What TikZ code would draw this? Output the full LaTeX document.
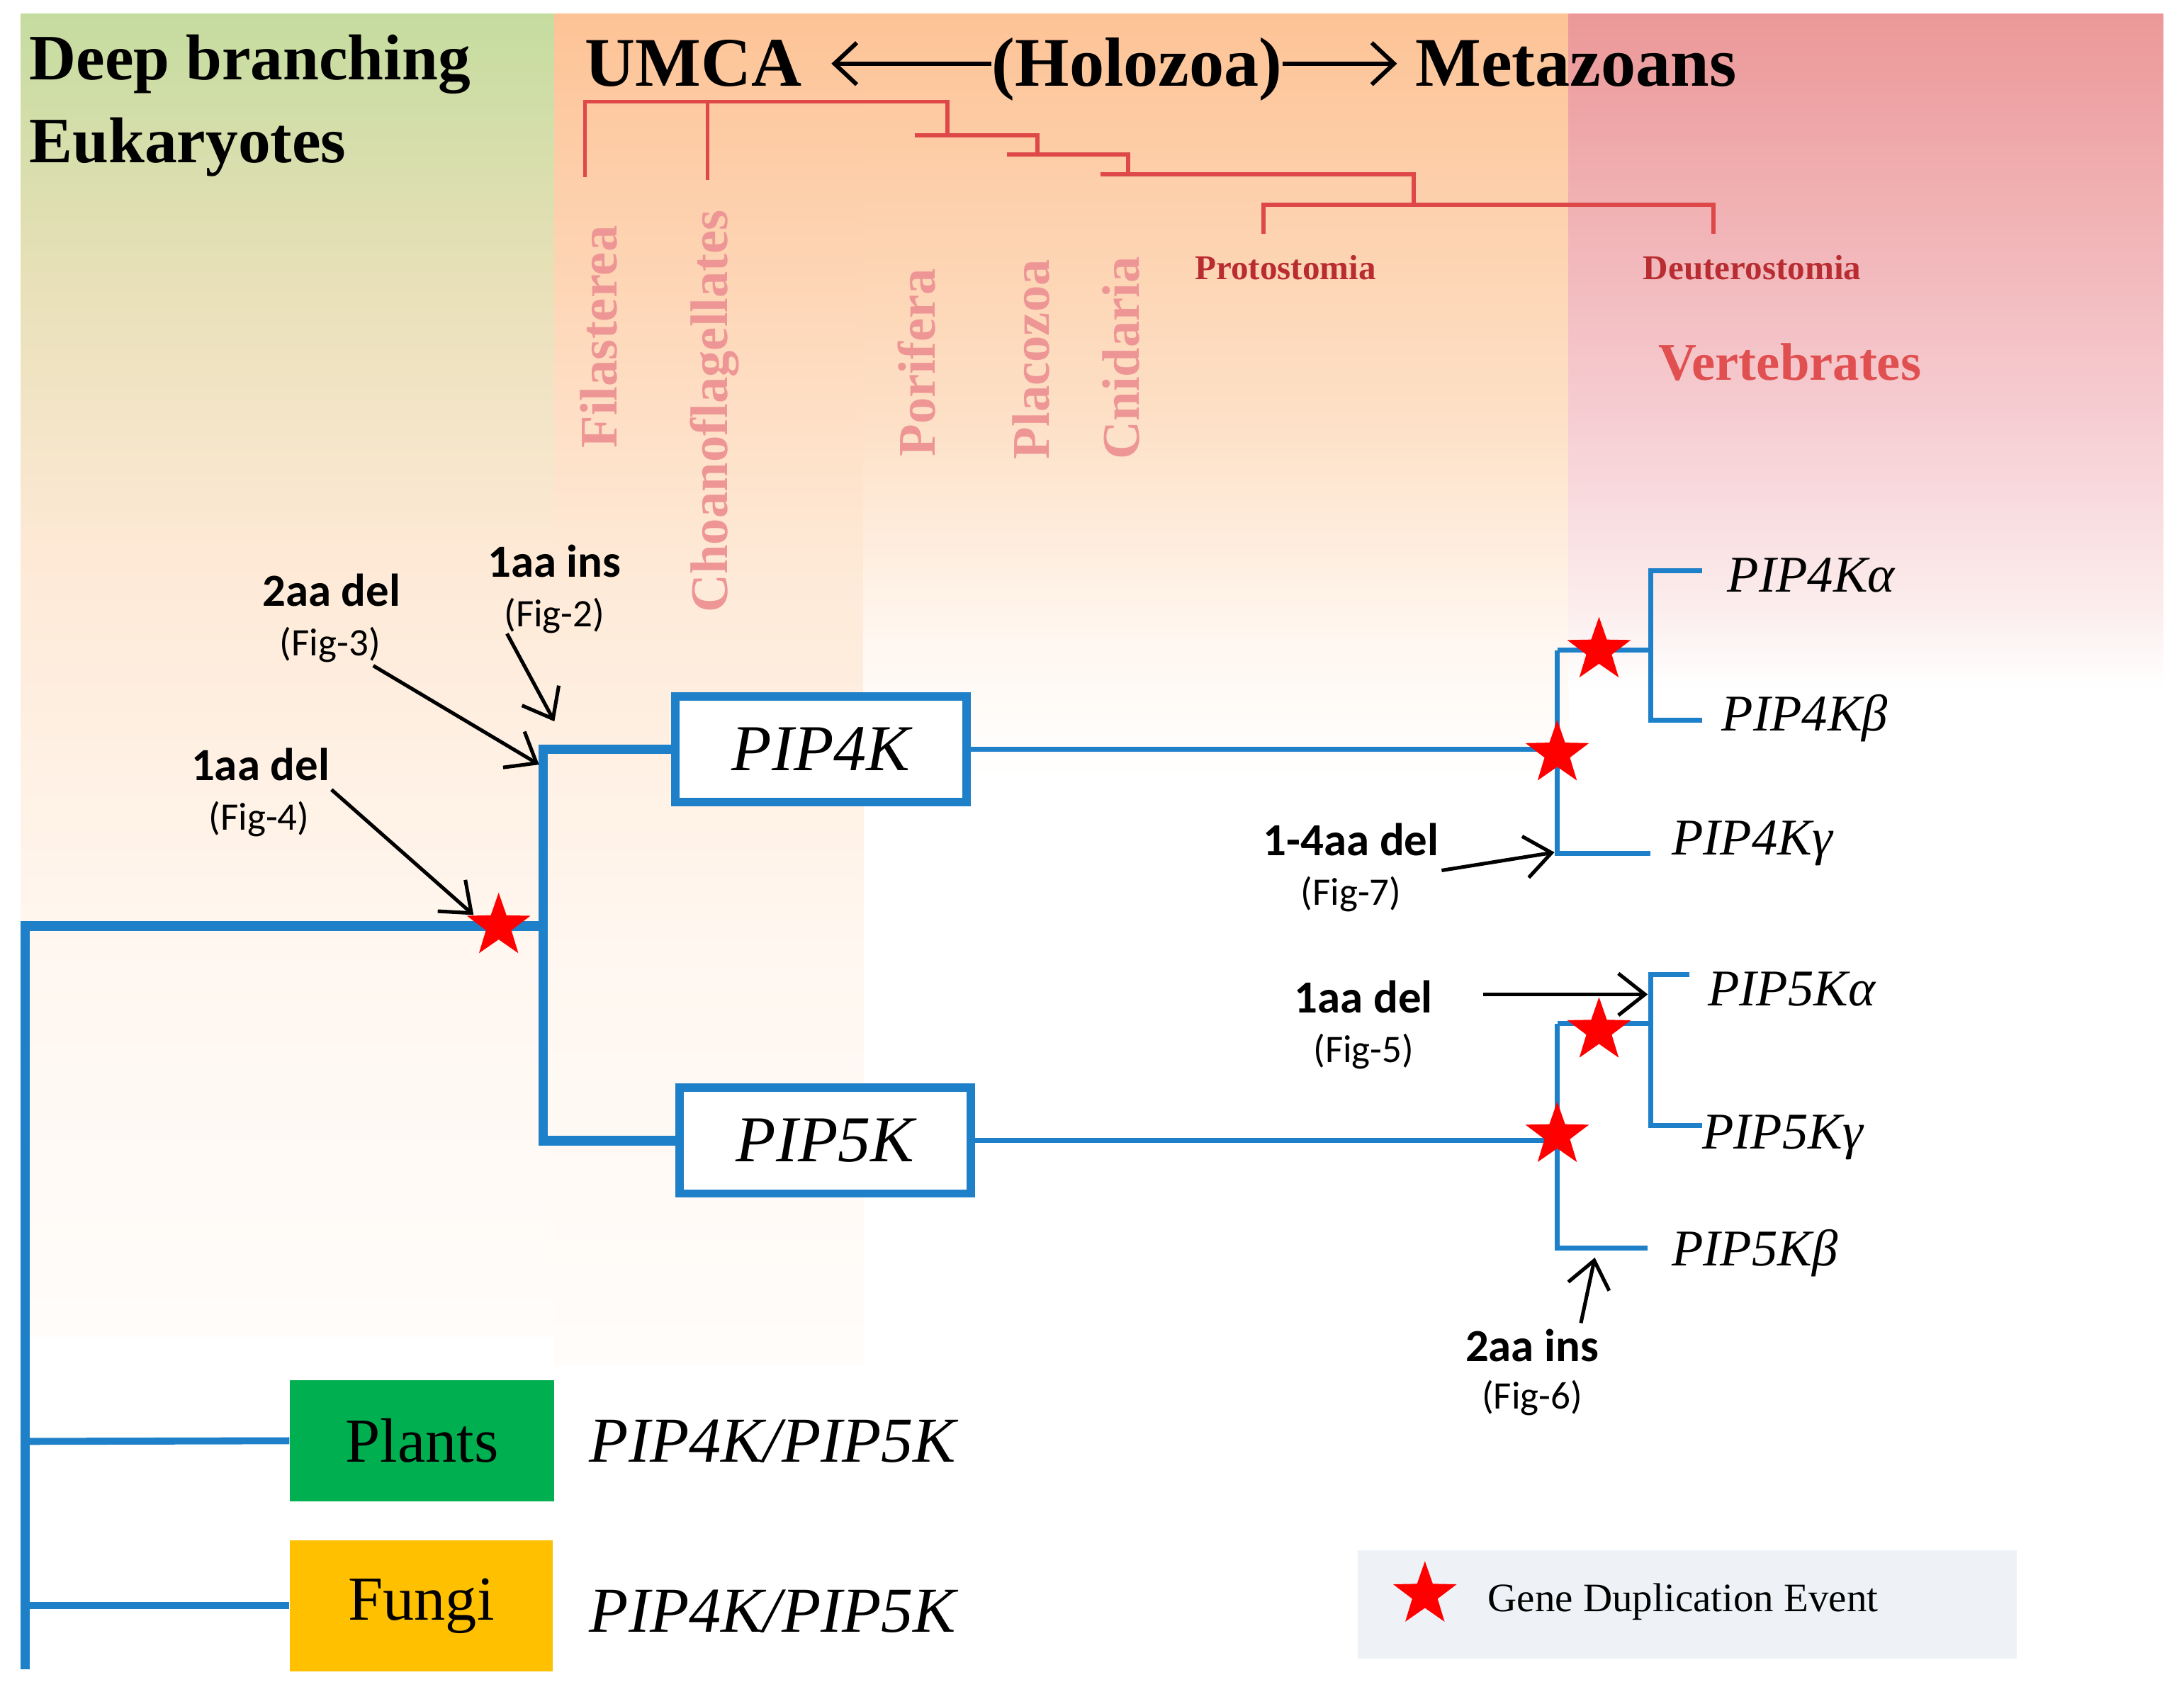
\documentclass[tikz,border=0pt]{standalone}
\usepackage{fontspec}
\setmainfont{Liberation Serif}
\newfontfamily\calibfont{Carlito}
\usetikzlibrary{shapes.geometric,arrows.meta}
\definecolor{treeblue}{RGB}{30,128,200}
\definecolor{treered}{RGB}{222,72,72}
\definecolor{labpink}{RGB}{238,150,150}
\definecolor{darkred}{RGB}{185,45,50}
\definecolor{vertred}{RGB}{225,80,80}
\definecolor{bggreen}{RGB}{197,220,159}
\definecolor{bgolive}{RGB}{232,224,184}
\definecolor{bgorange}{RGB}{253,195,150}
\definecolor{bgmidpeach}{RGB}{253,224,198}
\definecolor{bgpeach}{RGB}{254,233,214}
\definecolor{bgpeachmid}{RGB}{255,247,240}
\definecolor{bgpeachlow}{RGB}{255,252,250}
\definecolor{bgpink}{RGB}{236,152,152}
\definecolor{bgpinkmid}{RGB}{246,205,210}
\definecolor{bgpinklow}{RGB}{252,238,238}
\definecolor{plantgreen}{RGB}{0,176,80}
\definecolor{fungigold}{RGB}{255,192,0}
\definecolor{legendbg}{RGB}{238,242,247}
\pgfdeclareverticalshading{leftcol}{100bp}{color(0bp)=(bgpeachlow); color(25bp)=(bgpeachlow); color(39.74bp)=(bgpeachmid); color(54.47bp)=(bgpeach); color(65bp)=(bgolive); color(75bp)=(bggreen); color(100bp)=(bggreen)}
\pgfdeclareverticalshading{bandcol}{100bp}{color(0bp)=(bgpeachlow); color(25bp)=(bgpeachlow); color(40.46bp)=(bgpeachmid); color(54.9bp)=(bgpeach); color(75bp)=(bgorange); color(100bp)=(bgorange)}
\pgfdeclareverticalshading{midcol}{100bp}{color(0bp)=(white); color(25bp)=(white); color(34.09bp)=(bgpeachmid); color(48.64bp)=(bgmidpeach); color(75bp)=(bgorange); color(100bp)=(bgorange)}
\pgfdeclareverticalshading{pinkcol}{100bp}{color(0bp)=(white); color(25bp)=(white); color(30.67bp)=(bgpinklow); color(45.1bp)=(bgpinkmid); color(75bp)=(bgpink); color(100bp)=(bgpink)}
\tikzset{
  hdr/.style={font=\bfseries\fontsize{50pt}{60pt}\selectfont, inner sep=0pt},
  cornerlab/.style={font=\bfseries\fontsize{46.5pt}{56pt}\selectfont, inner sep=0pt},
  clade/.style={text=labpink, font=\bfseries\fontsize{38pt}{46pt}\selectfont, inner sep=0pt, rotate=90, anchor=west},
  subclade/.style={text=darkred, font=\bfseries\fontsize{25pt}{30pt}\selectfont, inner sep=0pt},
  vertlab/.style={text=vertred, font=\bfseries\fontsize{38pt}{46pt}\selectfont, inner sep=0pt},
  redtree/.style={draw=treered, line width=3pt},
  bluethick/.style={draw=treeblue, line width=7pt, line cap=rect},
  bluethin/.style={draw=treeblue, line width=3.5pt},
  genebox/.style={draw=treeblue, line width=6pt, fill=white, minimum width=209pt, minimum height=76pt, inner sep=0pt, font=\itshape\fontsize{47pt}{56pt}\selectfont},
  genelab/.style={font=\itshape\fontsize{37pt}{44pt}\selectfont, inner sep=0pt, anchor=base west},
  dupstar/.style={star, star points=5, star point ratio=2.5, fill=red, draw=none, minimum size=48pt, inner sep=0pt},
  annbold/.style={font=\calibfont\bfseries\fontsize{33pt}{40pt}\selectfont, inner sep=0pt},
  annfig/.style={font=\calibfont\fontsize{28pt}{34pt}\selectfont, inner sep=0pt},
  annarrow/.style={-{Straight Barb[length=19pt,width=30pt]}, line width=2.6pt, draw=black},
  hdrarrow/.style={-{Straight Barb[length=16pt,width=30pt]}, line width=3pt, draw=black},
  taxbox/.style={draw=none, inner sep=0pt, font=\fontsize{45pt}{54pt}\selectfont},
  pairlab/.style={font=\itshape\fontsize{46pt}{55pt}\selectfont, inner sep=0pt, anchor=west},
}
\begin{document}
\begin{tikzpicture}[x=1pt,y=-1pt]
\path[use as bounding box, fill=white] (0,0) rectangle (1568,1211);

% ---------- backgrounds ----------
\shade[shading=leftcol] (15,10) rectangle (398,960);
\shade[shading=bandcol] (398,10) rectangle (620,980);
\shade[shading=midcol] (620,10) rectangle (1126,560);
\shade[shading=pinkcol] (1126,10) rectangle (1553,495);

% ---------- headers ----------
\node[cornerlab, anchor=base west] (deep) at (21,57) {Deep branching};
\node[cornerlab, anchor=base west] (euk) at (21,117) {Eukaryotes};
\node[hdr, anchor=base west] (umca) at (420,62) {UMCA};
\node[hdr, anchor=base west] (holo) at (712,62) {(Holozoa)};
\node[hdr, anchor=base west] (meta) at (1016,62) {Metazoans};
\draw[hdrarrow] (holo.west |- umca.center) -- ([xshift=21pt]umca.east);
\draw[hdrarrow] (holo.east |- umca.center) -- ([xshift=-13pt]meta.west |- umca.center);

% ---------- red cladogram ----------
\coordinate (rFil) at (420,127);
\coordinate (rTopL) at (420,73);
\coordinate (rTopR) at (680,73);
\coordinate (rChoT) at (508,73);
\coordinate (rCho) at (508,129);
\coordinate (rN1) at (680,97);
\coordinate (rPor) at (657,97);
\coordinate (rN1R) at (745,97);
\coordinate (rN2) at (745,111);
\coordinate (rPla) at (723,111);
\coordinate (rN2R) at (810,111);
\coordinate (rN3) at (810,125);
\coordinate (rCni) at (790,125);
\coordinate (rN3R) at (1015,125);
\coordinate (rN4) at (1015,147);
\coordinate (rProT) at (907,147);
\coordinate (rPro) at (907,168);
\coordinate (rDeuT) at (1230,147);
\coordinate (rDeu) at (1230,168);
\draw[redtree] (rFil) -- (rTopL) -- (rTopR) -- (rN1);
\draw[redtree] (rChoT) -- (rCho);
\draw[redtree] (rPor) -- (rN1R) -- (rN2);
\draw[redtree] (rPla) -- (rN2R) -- (rN3);
\draw[redtree] (rCni) -- (rN3R) -- (rN4);
\draw[redtree] (rPro) -- (rProT) -- (rDeuT) -- (rDeu);

\node[clade] (fil) at (430,322) {Filasterea};
\node[clade] (cho) at (513,440) {Choanoflagellates};
\node[clade] (por) at (658,328) {Porifera};
\node[clade] (pla) at (740,330) {Placozoa};
\node[clade] (cni) at (805,330) {Cnidaria};
\node[subclade] (proto) at (923,192) {Protostomia};
\node[subclade] (deut) at (1258,192) {Deuterostomia};
\node[vertlab] (vert) at (1285,260) {Vertebrates};

% ---------- blue tree ----------
\node[genebox] (pip4k) at (589.5,538) {PIP4K};
\node[genebox] (pip5k) at (592.5,819) {PIP5K};
\node[taxbox, fill=plantgreen, minimum width=190pt, minimum height=87pt] (plants) at (303,1034.5) {Plants};
\node[taxbox, fill=fungigold, minimum width=189pt, minimum height=94pt] (fungi) at (302.5,1153) {Fungi};
\node[pairlab] (pairP) at (423,1035) {PIP4K/PIP5K};
\node[pairlab] (pairF) at (423,1157) {PIP4K/PIP5K};

\coordinate (rootbot) at (18,1195);
\coordinate (roottop) at (18,665);
\coordinate (jdup) at (390,665);
\coordinate (j4) at (390,538);
\coordinate (j5) at (390,819);
\coordinate (bP) at (18,1035);
\coordinate (bF) at (18,1153);
\draw[bluethick] (rootbot) -- (roottop) -- (jdup);
\draw[bluethick] (j4) -- (j5);
\draw[bluethick] (j4) -- (pip4k.west);
\draw[bluethick] (j5) -- (pip5k.west);
\draw[draw=treeblue, line width=5pt] (bP) -- (plants.west);
\draw[draw=treeblue, line width=5pt] (bF) -- (fungi.west);

% PIP4K subtree
\coordinate (a4) at (1118,538);
\coordinate (a4t) at (1118,467);
\coordinate (a4b) at (1118,613);
\coordinate (b4) at (1185,467);
\coordinate (b4t) at (1185,410);
\coordinate (b4b) at (1185,517);
\coordinate (tA4) at (1222,410);
\coordinate (tB4) at (1222,517);
\coordinate (tG4) at (1185,613);
\draw[bluethin] (pip4k.east) -- (a4);
\draw[bluethin] (a4t) -- (a4b) -- (tG4);
\draw[bluethin] (a4t) -- (b4);
\draw[bluethin] (tA4) -- (b4t) -- (b4b) -- (tB4);
\node[genelab] (lA4) at (1240,425) {PIP4Kα};
\node[genelab] (lB4) at (1236,525) {PIP4Kβ};
\node[genelab] (lG4) at (1200,614) {PIP4Kγ};

% PIP5K subtree
\coordinate (a5) at (1118,819);
\coordinate (a5t) at (1118,735);
\coordinate (a5b) at (1118,896);
\coordinate (tB5) at (1183,896);
\coordinate (b5) at (1185,735);
\coordinate (b5t) at (1185,700);
\coordinate (b5b) at (1185,808);
\coordinate (tA5) at (1213,700);
\coordinate (tG5) at (1222,808);
\draw[bluethin] (pip5k.east) -- (a5);
\draw[bluethin] (a5t) -- (a5b) -- (tB5);
\draw[bluethin] (a5t) -- (b5);
\draw[bluethin] (tA5) -- (b5t) -- (b5b) -- (tG5);
\node[genelab] (lA5) at (1226,722) {PIP5Kα};
\node[genelab] (lG5) at (1222,825) {PIP5Kγ};
\node[genelab] (lB5) at (1200,909) {PIP5Kβ};

% ---------- duplication stars ----------
\node[dupstar] (s0) at (358,665) {};
\node[dupstar] (s4) at (1118,541) {};
\node[dupstar] (s4b) at (1148,467) {};
\node[dupstar] (s5b) at (1148,740) {};
\node[dupstar] (s5) at (1118,815) {};

% ---------- annotations ----------
\node[annbold] (n3) at (238,424) {2aa del};
\node[annfig] (f3) at (237,463) {(Fig-3)};
\node[annbold] (n2) at (398,403) {1aa ins};
\node[annfig] (f2) at (398,442) {(Fig-2)};
\node[annbold] (n4) at (187,549) {1aa del};
\node[annfig] (f4) at (186,588) {(Fig-4)};
\node[annbold] (n7) at (970,603) {1-4aa del};
\node[annfig] (f7) at (970,642) {(Fig-7)};
\node[annbold] (n5) at (979,716) {1aa del};
\node[annfig] (f5) at (979,755) {(Fig-5)};
\node[annbold] (n6) at (1100,966) {2aa ins};
\node[annfig] (f6) at (1100,1004) {(Fig-6)};

\coordinate (t3) at (268,478);  \coordinate (h3) at (387,549);
\coordinate (t2) at (364,455);  \coordinate (h2) at (398,518);
\coordinate (t4) at (238,567);  \coordinate (h4) at (340,657);
\coordinate (t7) at (1035,625); \coordinate (h7) at (1116,612);
\coordinate (t5) at (1065,714); \coordinate (h5) at (1183,714);
\coordinate (t6) at (1135,950); \coordinate (h6) at (1145,903);
\draw[annarrow] (t3) -- (h3);
\draw[annarrow] (t2) -- (h2);
\draw[annarrow] (t4) -- (h4);
\draw[annarrow] (t7) -- (h7);
\draw[annarrow] (t5) -- (h5);
\draw[annarrow] (t6) -- (h6);

% ---------- legend ----------
\node[fill=legendbg, minimum width=473pt, minimum height=78pt, inner sep=0pt] (legend) at (1211.5,1152) {};
\node[dupstar] (sL) at (1023,1145) {};
\node[font=\fontsize{29pt}{35pt}\selectfont, inner sep=0pt, anchor=west] (legtext) at (1068,1150) {Gene Duplication Event};
\end{tikzpicture}
\end{document}
